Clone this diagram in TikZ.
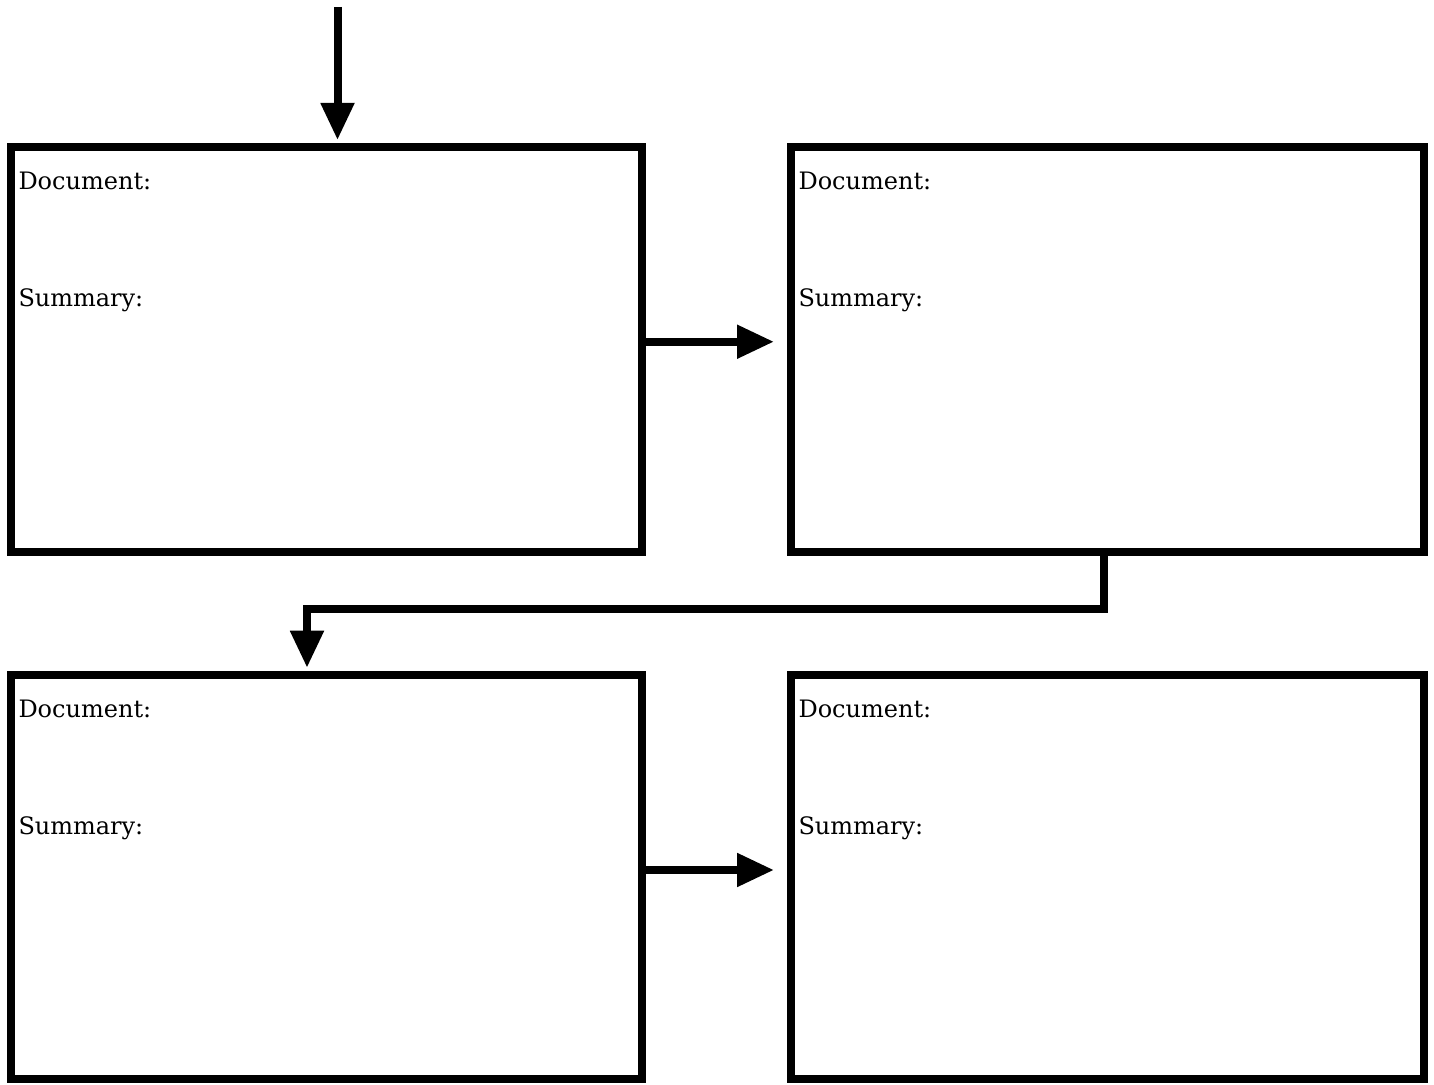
\documentclass[tikz,border=0pt]{standalone}
\usepackage{fontspec}
\setmainfont{DejaVu Serif}
\usetikzlibrary{arrows.meta}
\begin{document}
\begin{tikzpicture}[x=1pt,y=1pt,line join=miter,>={Triangle[length=37pt,width=32pt]},line width=8pt]
	\tikzset{box/.style={draw,rectangle,minimum height=404.5pt,inner sep=0pt},
		lbl/.style={anchor=base west,inner sep=0pt,font=\fontsize{24}{28}\selectfont},
		flow/.style={->,line width=8pt}}
	\useasboundingbox (0,0) rectangle (1434,1084);
	\node[box,minimum width=631pt] (b1) at (326.5,734.25) {};
	\node[box,minimum width=633pt] (b2) at (1107.5,734.25) {};
	\node[box,minimum width=631pt] (b3) at (326.5,207) {};
	\node[box,minimum width=633pt] (b4) at (1107.5,207) {};
	\foreach \b in {b1,b2,b3,b4}{
	\node[lbl] (\b-doc) at ([xshift=7.5pt,yshift=-46.5pt]\b.north west) {Document:};
	\node[lbl] (\b-sum) at ([xshift=7.5pt,yshift=-163.5pt]\b.north west) {Summary:};
	}
	\coordinate (in) at (337.5,1077);
	\coordinate (k1) at (1104,475);
	\coordinate (k2) at (307,475);
	\draw[flow,shorten >=3.5pt] (in)--(in |- b1.north);
	\draw[flow,shorten >=13pt] ([yshift=8pt]b1.east)--([yshift=8pt]b2.west);
	\draw[flow,shorten >=3pt] (k1 |- b2.south)--(k1)--(k2)--(k2 |- b3.north);
	\draw[flow,shorten >=13pt] ([yshift=7pt]b3.east)--([yshift=7pt]b4.west);
\end{tikzpicture}
\end{document}
